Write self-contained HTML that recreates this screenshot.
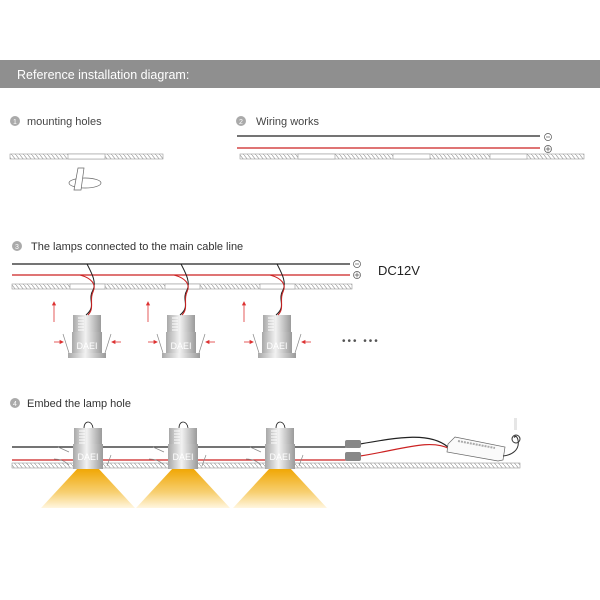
<!DOCTYPE html>
<html><head><meta charset="utf-8"><style>
html,body{margin:0;padding:0;background:#fff;}
svg{display:block;font-family:"Liberation Sans",sans-serif;}
</style></head><body>
<svg width="600" height="600" viewBox="0 0 600 600" xmlns="http://www.w3.org/2000/svg">
<defs>
<pattern id="h" width="4" height="5" patternUnits="userSpaceOnUse">
<line x1="0" y1="0" x2="4" y2="5" stroke="#999" stroke-width="0.7"/>
</pattern>
<linearGradient id="lamp" x1="0" x2="1" y1="0" y2="0">
<stop offset="0" stop-color="#a8a8a8"/><stop offset="0.45" stop-color="#f2f2f2"/><stop offset="1" stop-color="#9a9a9a"/>
</linearGradient>
<linearGradient id="cone" x1="0" x2="0" y1="0" y2="1">
<stop offset="0" stop-color="#f0a500"/><stop offset="0.6" stop-color="#f7cf70"/><stop offset="1" stop-color="#fff6e0"/>
</linearGradient>
<g id="fins">
<rect x="-14" y="0" width="28" height="17" fill="url(#lamp)"/>
<g stroke="#fff" stroke-width="1"><line x1="-9" y1="3" x2="-3" y2="3"/><line x1="-9" y1="6" x2="-3" y2="6"/><line x1="-9" y1="9" x2="-3" y2="9"/><line x1="-9" y1="12" x2="-3" y2="12"/><line x1="-9" y1="15" x2="-3" y2="15"/></g>
</g>
<g id="lamp3">
<use href="#fins" y="315"/>
<rect x="-15" y="332" width="30" height="22" fill="url(#lamp)"/>
<rect x="-19" y="353" width="38" height="5" fill="url(#lamp)"/>
<text x="0" y="349" font-size="9" fill="#fff" text-anchor="middle">DAEI</text>
<line x1="-18" y1="353" x2="-24" y2="334" stroke="#888" stroke-width="0.7"/>
<line x1="18" y1="353" x2="24" y2="334" stroke="#888" stroke-width="0.7"/>
<g stroke="#d33" stroke-width="0.8" fill="#d33">
<line x1="-33" y1="342" x2="-25" y2="342"/><path d="M-24,342 l-3,-1.5 v3z"/>
<line x1="34" y1="342" x2="26" y2="342"/><path d="M25,342 l3,-1.5 v3z"/>
<line x1="-33" y1="322" x2="-33" y2="304"/><path d="M-33,302 l-1.5,3 h3z"/>
</g>
<path d="M0,264 C4,272 10,282 6,290 C0,300 10,306 -1,315" stroke="#222" stroke-width="1" fill="none"/>
<path d="M-7,275 C4,278 10,284 6,292 C2,300 8,308 1,315" stroke="#c22" stroke-width="1" fill="none"/>
</g>
<g id="lamp4">
<path d="M-10,468 L10,468 L47,508 L-47,508 Z" fill="url(#cone)"/>
<path d="M-4,428 C-4,420 4,420 5,428" stroke="#222" fill="none" stroke-width="0.8"/>
<use href="#fins" y="428"/>
<rect x="-15" y="444" width="30" height="25" fill="url(#lamp)"/>
<text x="0" y="460" font-size="9" fill="#fff" text-anchor="middle">DAEI</text>
<path d="M-30,447 L-19,452 M-34,459 C-26,459 -22,462 -19,465" stroke="#888" stroke-width="0.7" fill="none"/>
<line x1="19" y1="466" x2="23" y2="455" stroke="#888" stroke-width="0.7"/>
</g>
</defs>

<rect x="0" y="60" width="600" height="28" fill="#8f8f8f"/>
<text x="17" y="79" font-size="12.5" fill="#fff">Reference installation diagram:</text>

<circle cx="15" cy="121" r="5" fill="#aaa"/><text x="15" y="124" font-size="7" fill="#fff" text-anchor="middle">1</text>
<text x="27" y="125" font-size="11" fill="#444">mounting holes</text>
<rect x="10" y="154" width="153" height="5" fill="url(#h)" stroke="#999" stroke-width="0.6"/>
<rect x="68" y="154" width="37" height="5" fill="#fff" stroke="#999" stroke-width="0.6"/>
<ellipse cx="85" cy="183" rx="16" ry="5" fill="none" stroke="#666" stroke-width="0.7"/>
<path d="M78,168 L84,168 L81,190 L74,190 Z" fill="#fff" stroke="#666" stroke-width="0.7"/>

<circle cx="241" cy="121" r="5" fill="#aaa"/><text x="241" y="124" font-size="7" fill="#fff" text-anchor="middle">2</text>
<text x="256" y="125" font-size="11" fill="#444">Wiring works</text>
<line x1="237" y1="136" x2="540" y2="136" stroke="#222" stroke-width="1.2"/>
<line x1="237" y1="148" x2="540" y2="148" stroke="#c22" stroke-width="1.2"/>
<circle cx="548" cy="137" r="3.5" fill="none" stroke="#555" stroke-width="0.7"/><line x1="546" y1="137" x2="550" y2="137" stroke="#555" stroke-width="0.7"/>
<circle cx="548" cy="149" r="3.5" fill="none" stroke="#555" stroke-width="0.7"/><path d="M545.5,149 h5 M548,146.5 v5" stroke="#555" stroke-width="0.7"/>
<rect x="240" y="154" width="344" height="5" fill="url(#h)" stroke="#999" stroke-width="0.6"/>
<rect x="298" y="154" width="37" height="5" fill="#fff" stroke="#999" stroke-width="0.6"/>
<rect x="393" y="154" width="37" height="5" fill="#fff" stroke="#999" stroke-width="0.6"/>
<rect x="490" y="154" width="37" height="5" fill="#fff" stroke="#999" stroke-width="0.6"/>

<circle cx="17" cy="246" r="5" fill="#aaa"/><text x="17" y="249" font-size="7" fill="#fff" text-anchor="middle">3</text>
<text x="31" y="250" font-size="11" fill="#333">The lamps connected to the main cable line</text>
<line x1="12" y1="264" x2="350" y2="264" stroke="#222" stroke-width="1.2"/>
<line x1="12" y1="275" x2="350" y2="275" stroke="#c22" stroke-width="1.2"/>
<circle cx="357" cy="264" r="3.5" fill="none" stroke="#555" stroke-width="0.7"/><line x1="355" y1="264" x2="359" y2="264" stroke="#555" stroke-width="0.7"/>
<circle cx="357" cy="275" r="3.5" fill="none" stroke="#555" stroke-width="0.7"/><path d="M354.5,275 h5 M357,272.5 v5" stroke="#555" stroke-width="0.7"/>
<text x="378" y="275" font-size="13" fill="#222">DC12V</text>
<rect x="12" y="284" width="340" height="5" fill="url(#h)" stroke="#999" stroke-width="0.6"/>
<rect x="70" y="284" width="35" height="5" fill="#fff" stroke="#999" stroke-width="0.6"/>
<rect x="165" y="284" width="35" height="5" fill="#fff" stroke="#999" stroke-width="0.6"/>
<rect x="260" y="284" width="35" height="5" fill="#fff" stroke="#999" stroke-width="0.6"/>
<use href="#lamp3" x="87"/>
<use href="#lamp3" x="181"/>
<use href="#lamp3" x="277"/>
<text x="342" y="344" font-size="10" fill="#555" letter-spacing="2">••• •••</text>

<circle cx="15" cy="403" r="5" fill="#aaa"/><text x="15" y="406" font-size="7" fill="#fff" text-anchor="middle">4</text>
<text x="27" y="407" font-size="11" fill="#333">Embed the lamp hole</text>
<line x1="12" y1="447" x2="346" y2="447" stroke="#222" stroke-width="1.2"/>
<line x1="12" y1="460" x2="346" y2="460" stroke="#c22" stroke-width="1.2"/>
<rect x="12" y="463" width="508" height="5" fill="url(#h)" stroke="#999" stroke-width="0.6"/>
<use href="#lamp4" x="88"/>
<use href="#lamp4" x="183"/>
<use href="#lamp4" x="280"/>
<path d="M360,444 C400,437 430,432 448,447" stroke="#222" stroke-width="1.2" fill="none"/>
<path d="M360,456 C400,450 430,438 450,449" stroke="#c22" stroke-width="1.2" fill="none"/>
<rect x="345" y="440" width="16" height="8" rx="2" fill="#888"/>
<rect x="345" y="452" width="16" height="9" rx="2" fill="#888"/>
<path d="M448,444 L455,437 L505,447 L503,460 L498,461 L447,452 Z" fill="#fafafa" stroke="#666" stroke-width="0.7"/>
<path d="M458,441 L495,448" stroke="#aaa" stroke-width="2" stroke-dasharray="2,1"/>
<path d="M503,456 C512,455 520,450 518,440 C516,432 512,440 516,436" stroke="#333" stroke-width="1" fill="none"/>
<circle cx="516" cy="439" r="4" fill="none" stroke="#333" stroke-width="1"/>
<rect x="514" y="418" width="3" height="12" fill="#e6e6e6"/>
</svg>
</body></html>
